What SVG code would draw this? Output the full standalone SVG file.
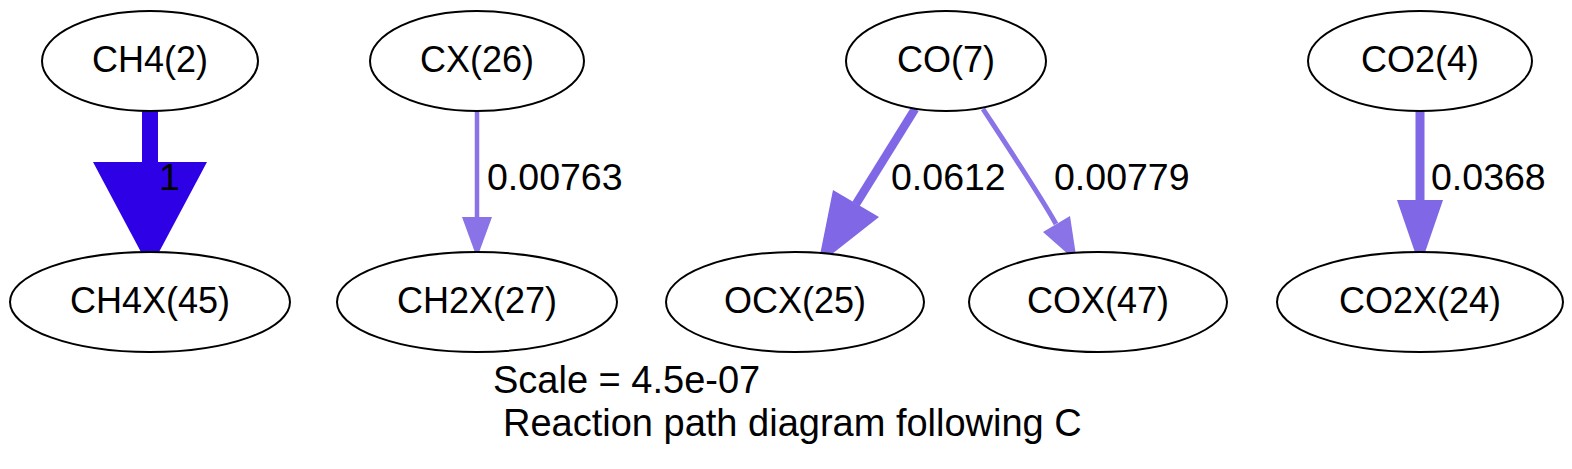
<svg xmlns="http://www.w3.org/2000/svg" width="1572" height="469" viewBox="0 0 1572 469">
<style>
  .node ellipse { fill: #ffffff; stroke: #000000; stroke-width: 2; }
  text { font-family: "Liberation Sans", Arial, Helvetica, sans-serif; font-size: 37.5px; fill: #000000; }
  .node text { text-anchor: middle; font-size: 36px; }
  #title text { font-size: 38px; }
  .e0 { stroke: #2e00e6; fill: none; }
  .h0 { fill: #2e00e6; stroke: none; }
  .e1 { stroke: #8067e6; fill: none; }
  .h1 { fill: #8067e6; stroke: none; }
  .e2 { stroke: #8a73e6; fill: none; }
  .h2 { fill: #8a73e6; stroke: none; }
</style>
<rect x="0" y="0" width="1572" height="469" fill="#ffffff"/>
<g id="connectors">
  <g id="edge_CH4_CH4X">
    <path class="e0" d="M150,110 L150,163" stroke-width="16"/>
    <polygon class="h0" points="93,162 207,162 150,269"/>
    <text x="159" y="190">1</text>
  </g>
  <g id="edge_CX_CH2X">
    <path class="e2" d="M477,110 L477,218" stroke-width="4.5"/>
    <polygon class="h2" points="462,217 492,217 477,258"/>
    <text x="487" y="190">0.00763</text>
  </g>
  <g id="edge_CO_OCX">
    <path class="e1" d="M915,109 L856,204" stroke-width="8.5"/>
    <polygon class="h1" points="833,190 879,217 818,265"/>
    <text x="891" y="190">0.0612</text>
  </g>
  <g id="edge_CO_COX">
    <path class="e2" d="M983,109 C1000,135 1040,195 1056,224" stroke-width="5"/>
    <polygon class="h2" points="1043,232 1070,216 1077,262"/>
    <text x="1054" y="190">0.00779</text>
  </g>
  <g id="edge_CO2_CO2X">
    <path class="e1" d="M1420,110 L1420,201" stroke-width="9"/>
    <polygon class="h1" points="1397,200 1443,200 1420,267"/>
    <text x="1431" y="190">0.0368</text>
  </g>
</g>
<g id="node_CH4" class="node"><ellipse cx="150" cy="61" rx="108" ry="50"/><text x="150" y="72">CH4(2)</text></g>
<g id="node_CH4X" class="node"><ellipse cx="150" cy="302" rx="140" ry="50"/><text x="150" y="313">CH4X(45)</text></g>
<g id="node_CX" class="node"><ellipse cx="477" cy="61" rx="107" ry="50"/><text x="477" y="72">CX(26)</text></g>
<g id="node_CH2X" class="node"><ellipse cx="477" cy="302" rx="140" ry="50"/><text x="477" y="313">CH2X(27)</text></g>
<g id="node_CO" class="node"><ellipse cx="946" cy="61" rx="100" ry="50"/><text x="946" y="72">CO(7)</text></g>
<g id="node_OCX" class="node"><ellipse cx="795" cy="302" rx="129" ry="50"/><text x="795" y="313">OCX(25)</text></g>
<g id="node_COX" class="node"><ellipse cx="1098" cy="302" rx="129" ry="50"/><text x="1098" y="313">COX(47)</text></g>
<g id="node_CO2" class="node"><ellipse cx="1420" cy="61" rx="112" ry="50"/><text x="1420" y="72">CO2(4)</text></g>
<g id="node_CO2X" class="node"><ellipse cx="1420" cy="302" rx="143" ry="50"/><text x="1420" y="313">CO2X(24)</text></g>
<g id="title">
  <text x="493" y="393">Scale = 4.5e-07</text>
  <text x="503" y="436">Reaction path diagram following C</text>
</g>
</svg>
